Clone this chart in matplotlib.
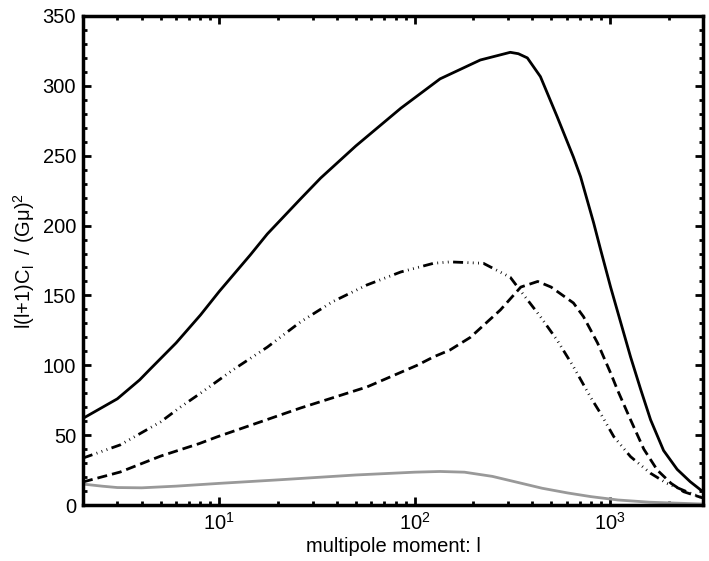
import numpy as np
import matplotlib
matplotlib.use('Agg')
import matplotlib.pyplot as plt
from matplotlib.ticker import MultipleLocator, LogLocator, FixedLocator, NullFormatter

plt.rcParams['font.family'] = ['Liberation Sans', 'DejaVu Sans']
plt.rcParams['mathtext.fontset'] = 'custom'
plt.rcParams['mathtext.rm'] = 'Liberation Sans'
plt.rcParams['mathtext.it'] = 'Liberation Sans'

# curves: multipole l and l(l+1)C_l/(G mu)^2
l_total = [2, 3, 3.9, 4.4, 6, 8, 10, 14.4, 17.6, 26, 33, 50, 85, 135, 217, 309, 340, 378,
           441, 537, 651, 708, 826, 896, 1009, 1135, 1277, 1437, 1617, 1885, 2213, 2580, 3000]
c_total = [62, 76, 89.5, 97, 116, 136, 153, 179, 194, 219, 234, 257, 284, 305, 318.5, 324, 323, 320,
           306.6, 278, 249, 235, 202, 183, 156, 131, 106, 83, 61, 39, 25.5, 16.7, 9.5]

l_dashdot = [2, 3.1, 5, 6.3, 8, 11.7, 17.6, 26, 38, 57, 85, 125, 152, 225, 309, 350,
             441, 537, 651, 794, 896, 1047, 1277, 1617, 1960, 2480, 3000]
c_dashdot = [33.6, 43, 59.5, 70, 80, 96.6, 113, 131, 145.5, 157.5, 166.8, 173, 174, 173, 163, 153,
             134.8, 118, 99, 77.5, 65.6, 49, 34.6, 22.7, 15.5, 9.5, 5]

l_dashed = [2, 3.1, 5, 7.9, 9.7, 26, 57, 103, 125, 152, 193, 275, 350, 427, 500, 651, 733,
            865, 1009, 1097, 1277, 1493, 1750, 2060, 2390, 3000]
c_dashed = [16.5, 23.6, 35, 44, 48.7, 69.4, 84.5, 100, 106, 111, 120, 139.6, 156, 160, 156, 144.6, 134.8,
            116, 94.5, 82, 61, 40, 25, 15.5, 9.5, 5]

l_gray = [2, 2.5, 3, 4, 6, 10, 20, 50, 100, 135, 180, 250, 330, 450, 610, 800, 1100, 1600, 3000]
c_gray = [15, 13.5, 12.5, 12.3, 13.5, 15.5, 18, 21.5, 23.5, 24, 23.5, 20.5, 16.5, 12, 8.6, 6, 3.6, 2, 0.7]

fig = plt.figure(figsize=(7.09, 5.61), dpi=100)
ax = fig.add_axes([0.117, 0.0998, 0.8745, 0.8717])

ax.plot(l_total, c_total, color='black', lw=2.0, solid_joinstyle='round')
ax.plot(l_dashdot, c_dashdot, color='black', lw=2.0,
        dashes=(3.6, 1.6, 0.3, 1.6, 0.3, 1.6, 0.3, 1.6))
ax.plot(l_dashed, c_dashed, color='black', lw=2.0, dashes=(3.6, 1.8))
ax.plot(l_gray, c_gray, color='#999999', lw=2.0)

ax.set_xscale('log')
ax.set_xlim(2, 3000)
ax.set_ylim(0, 350)

ax.xaxis.set_major_locator(FixedLocator([10, 100, 1000]))
ax.xaxis.set_minor_locator(LogLocator(base=10, subs=np.arange(2, 10), numticks=20))
ax.xaxis.set_minor_formatter(NullFormatter())
ax.set_xticklabels([r'10$^{1}$', r'10$^{2}$', r'10$^{3}$'])
ax.yaxis.set_major_locator(MultipleLocator(50))
ax.yaxis.set_minor_locator(MultipleLocator(10))

ax.tick_params(which='both', direction='in', top=True, right=True, labelsize=14.5, pad=5)
ax.tick_params(which='major', length=6, width=2)
ax.tick_params(which='minor', length=3, width=2)
for sp in ax.spines.values():
    sp.set_linewidth(2.5)

ax.set_xlabel('multipole moment: l', fontsize=14.5, labelpad=2)
ax.set_ylabel(r'l(l+1)C$_{\mathregular{l}}$  / (G$\mathregular{\mu}$)$^{\mathregular{2}}$', fontsize=14.5, labelpad=4)

fig.savefig('out.png', dpi=100)
